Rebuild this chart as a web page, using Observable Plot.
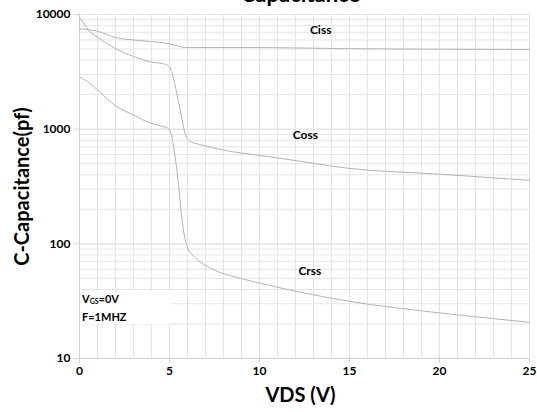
<!DOCTYPE html>
<html>
<head>
<meta charset="utf-8">
<script src="https://cdn.jsdelivr.net/npm/d3@7"></script>
<script src="https://cdn.jsdelivr.net/npm/@observablehq/plot@0.6"></script>
<style>
  body { margin: 0; background: #fff; font-family: Lato, "Open Sans", sans-serif; }
  #wrap { position: relative; width: 537px; height: 412px; overflow: hidden; }
  #legend { position: absolute; left: 80px; top: 291px; width: 90px; height: 33px; background: #fff;
            font: bold 11px Lato, sans-serif; color: #000; line-height: 16px; padding-left: 2px; box-sizing: border-box; }
  #legend sub { font-size: 7px; vertical-align: -1px; }
</style>
</head>
<body>
<div id="wrap"><div id="chart"></div><div id="legend"><div>V<sub>GS</sub>=0V</div><div>F=1MHZ</div></div></div>
<script>
// Data
const cissV = [0, 1, 2, 3, 4, 4.7, 5, 5.7, 6, 10, 15, 20, 25];
const cissC = [7500, 7150, 6300, 6000, 5800, 5650, 5550, 5200, 5150, 5150, 5030, 4980, 4950];

const cossV = [0, 0.25, 0.5, 1, 1.5, 2, 3, 4, 4.7, 5, 5.15, 5.3, 5.45, 5.6, 5.75, 5.9, 6.05, 6.3, 7, 8, 10, 11.2, 15, 20, 25];
const cossC = [9400, 8300, 7300, 6350, 5600, 5050, 4300, 3850, 3700, 3500, 3050, 2450, 1900, 1450, 1100, 880, 800, 765, 715, 657, 590, 556, 455, 405, 358];

const crssV = [0, 0.6, 1, 2, 3, 4, 4.6, 4.95, 5.1, 5.24, 5.38, 5.5, 5.62, 5.75, 5.88, 6.0, 6.35, 7.28, 8.94, 10, 15, 20, 25];
const crssC = [2850, 2500, 2200, 1600, 1330, 1120, 1060, 1010, 900, 680, 480, 330, 210, 140, 108, 93, 78, 61.5, 50, 45.5, 31.5, 25, 20.7];

const labelNames = ["Ciss", "Coss", "Crss"];
const labelV = [13.4, 12.55, 12.8];
const labelC = [7260, 887, 58.2];

const xTicks = [0, 5, 10, 15, 20, 25];
const yTicks = [10, 100, 1000, 10000];

const title = "Capacitance";
const xLabel = "VDS (V)";
const yLabel = "C-Capacitance(pf)";

const toRows = (vs, cs) => vs.map((v, i) => ({v, c: cs[i]}));
const ciss = toRows(cissV, cissC);
const coss = toRows(cossV, cossC);
const crss = toRows(crssV, crssC);
const labels = labelNames.map((n, i) => ({n, v: labelV[i], c: labelC[i]}));

const gridX = d3.range(1, 26);
const gridY = [];
for (const d of [10, 100, 1000]) for (let k = 1; k <= 10; k++) gridY.push(d * k);

const gridColor = "#e4e4e4";
const lineColor = "#b3b3b3";

const chart = Plot.plot({
  width: 537,
  height: 412,
  marginLeft: 79,
  marginRight: 8,
  marginTop: 14,
  marginBottom: 54,
  style: { fontFamily: "Lato, 'Open Sans', sans-serif", background: "#fff", overflow: "visible" },
  x: { domain: [0, 25] },
  y: { type: "log", domain: [10, 10000] },
  marks: [
    Plot.ruleX(gridX, { stroke: gridColor, strokeWidth: 1 }),
    Plot.ruleY(gridY, { stroke: gridColor, strokeWidth: 1 }),
    Plot.ruleX([0], { stroke: "#d0d0d0" }),
    Plot.ruleY([10], { stroke: "#d0d0d0" }),
    Plot.axisX({ ticks: xTicks, tickSize: 5, tickPadding: 3, stroke: "#d0d0d0", fontSize: 12, fontWeight: "bold", label: null, tickFormat: d => String(d) }),
    Plot.axisY({ ticks: yTicks, tickSize: 5, tickPadding: 4, stroke: "#d0d0d0", fontSize: 12, fontWeight: "bold", label: null, tickFormat: d => String(d) }),
    Plot.line(ciss, { x: "v", y: "c", stroke: lineColor, strokeWidth: 1, curve: "monotone-x" }),
    Plot.line(coss, { x: "v", y: "c", stroke: lineColor, strokeWidth: 1, curve: "monotone-x" }),
    Plot.line(crss, { x: "v", y: "c", stroke: lineColor, strokeWidth: 1, curve: "monotone-x" }),
    Plot.text(labels, { x: "v", y: "c", text: "n", fontSize: 12, fontWeight: "bold", fill: "#000" }),
    Plot.text([xLabel], { frameAnchor: "bottom", dy: 37, dx: -4, lineAnchor: "middle", fontSize: 20, fontWeight: "bold", fill: "#000" }),
    Plot.text([yLabel], { frameAnchor: "left", dx: -57, rotate: -90, lineAnchor: "middle", textAnchor: "middle", fontSize: 20, fontWeight: "bold", fill: "#000" }),
    Plot.text([title], { frameAnchor: "top", dx: -4, dy: -13, lineAnchor: "bottom", fontSize: 22, fontWeight: "bold", fill: "#000" })
  ]
});
document.getElementById("chart").appendChild(chart);
</script>
</body>
</html>
